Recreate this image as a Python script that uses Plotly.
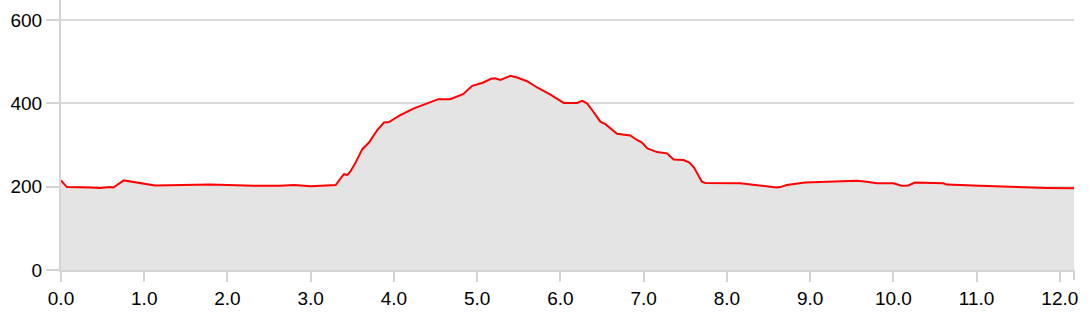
import plotly.graph_objects as go

distance_km = [0.0, 0.07, 0.35, 0.47, 0.59, 0.63, 0.754, 0.91, 1.13, 1.79, 2.31, 2.63, 2.8, 3.0, 3.30,
               3.375, 3.40, 3.44, 3.475, 3.535, 3.62, 3.70, 3.80, 3.88, 3.94, 4.08, 4.24, 4.40,
               4.535, 4.675, 4.83, 4.94, 5.075, 5.165, 5.215, 5.28, 5.40, 5.48, 5.60, 5.72, 5.88,
               6.04, 6.20, 6.26, 6.32, 6.38, 6.48, 6.54, 6.68, 6.84, 6.92, 6.98, 7.045, 7.16, 7.28,
               7.36, 7.48, 7.55, 7.605, 7.70, 7.74, 8.16, 8.60, 8.64, 8.72, 8.94, 9.56, 9.68, 9.80,
               10.0, 10.10, 10.18, 10.26, 10.60, 10.64, 11.04, 11.44, 11.84, 12.17]
elevation_m = [215, 199, 198, 197, 199, 198, 215, 210, 203, 205, 202, 202, 204, 201, 204,
               224, 230, 228, 236, 256, 290, 306, 336, 354, 355, 372, 388, 400,
               410, 410, 422, 442, 450, 459, 460, 456, 466, 462, 453, 438, 421,
               401, 401, 406, 400, 384, 356, 350, 327, 323, 312, 306, 292, 283, 280,
               265, 264, 258, 246, 212, 209, 208, 198, 199, 204, 210, 214, 212, 208,
               208, 202, 203, 210, 208, 205, 202, 199, 197, 196]

x_tick_vals = [0, 1, 2, 3, 4, 5, 6, 7, 8, 9, 10, 11, 12]
x_tick_text = ["0.0", "1.0", "2.0", "3.0", "4.0", "5.0", "6.0", "7.0", "8.0", "9.0", "10.0", "11.0", "12.0"]
y_tick_vals = [0, 200, 400, 600]

axis_color = "#d4d4d4"

fig = go.Figure()
fig.add_trace(go.Scatter(
    x=distance_km, y=elevation_m, mode="lines",
    fill="tozeroy", fillcolor="#e4e4e4",
    line=dict(color="#ff0000", width=2),
    hoverinfo="skip", showlegend=False,
))

fig.update_layout(
    width=1089, height=315,
    margin=dict(l=61, r=15, t=0, b=45),
    paper_bgcolor="white", plot_bgcolor="white",
    font=dict(family="Liberation Sans, Arial, sans-serif", size=19, color="#000"),
    xaxis=dict(
        range=[0, 12.17], tickvals=x_tick_vals, ticktext=x_tick_text,
        showgrid=False, zeroline=False,
        showline=True, linecolor=axis_color, linewidth=2,
        ticks="outside", ticklen=10, tickwidth=2, tickcolor=axis_color,
        fixedrange=True,
    ),
    yaxis=dict(
        range=[0, 648], tickvals=y_tick_vals,
        showgrid=True, gridcolor="#d9d9d9", gridwidth=2, zeroline=False,
        showline=True, linecolor=axis_color, linewidth=2,
        ticks="outside", ticklen=13, tickwidth=2, tickcolor=axis_color,
        fixedrange=True,
    ),
    shapes=[dict(
        type="line", xref="paper", yref="paper", x0=1, x1=1,
        ysizemode="pixel", yanchor=0, y0=0, y1=-10,
        line=dict(color=axis_color, width=2),
    )],
)

fig.write_html("out.html")
